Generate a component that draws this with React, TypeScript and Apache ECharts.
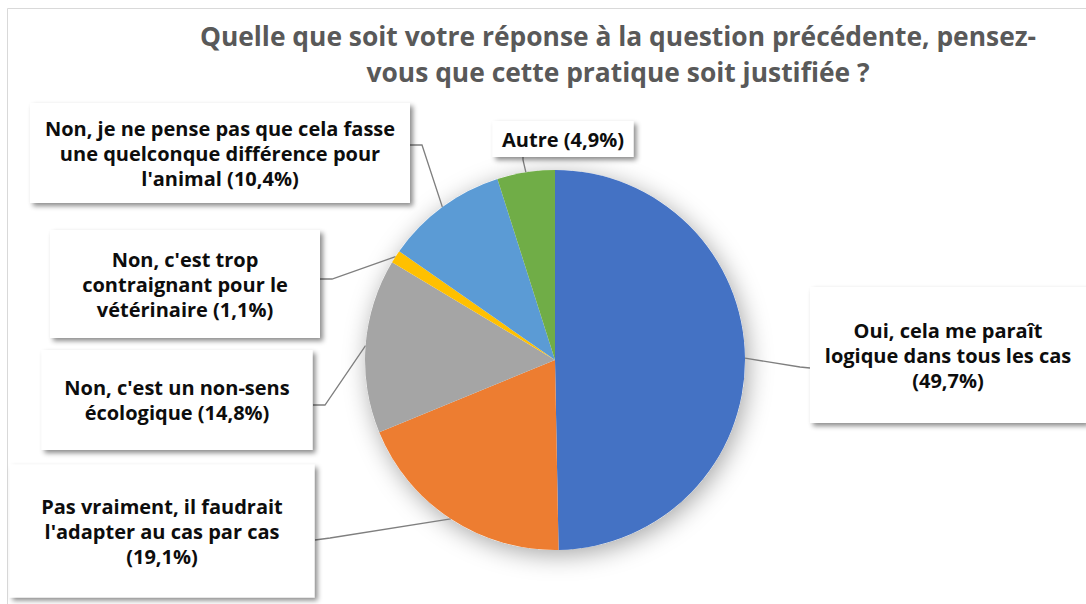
import React, { useEffect, useRef } from 'react';
import * as echarts from 'echarts';

const titleLines = [
  'Quelle que soit votre réponse à la question précédente, pensez-',
  'vous que cette pratique soit justifiée ?',
];
const categories = [
  'Oui, cela me paraît\nlogique dans tous les cas',
  "Pas vraiment, il faudrait\nl'adapter au cas par cas",
  "Non, c'est un non-sens\nécologique",
  "Non, c'est trop\ncontraignant pour le\nvétérinaire",
  "Non, je ne pense pas que cela fasse\nune quelconque différence pour\nl'animal",
  'Autre',
];
const values = [49.7, 19.1, 14.8, 1.1, 10.4, 4.9];
const colors = ['#4472C4', '#ED7D31', '#A5A5A5', '#FFC000', '#5B9BD5', '#70AD47'];

// layout of label boxes: center x, center y, width, height, separator before percentage
const boxes = [
  { cx: 948, cy: 355, w: 276, h: 136, sep: '\n' },
  { cx: 162, cy: 531, w: 305, h: 133, sep: '\n' },
  { cx: 177, cy: 400, w: 271, h: 100, sep: ' ' },
  { cx: 185, cy: 284, w: 270, h: 108, sep: ' ' },
  { cx: 220, cy: 153, w: 380, h: 100, sep: ' ' },
  { cx: 563, cy: 139, w: 141, h: 36, sep: ' ' },
];
// leader line elbows & ends
const links = [
  [[800, 367], [810, 368]],
  [[330, 538], [315, 540]],
  [[325, 405], [313, 405]],
  [[332, 279], [320, 279]],
  [[422, 145], [410, 145]],
  [[523, 160], [523, 157]],
];

const CX = 555;
const CY = 360;
const R = 190;
const FONT = "'Open Sans', 'Noto Sans', sans-serif";

export default function App() {
  const ref = useRef<HTMLDivElement>(null);
  useEffect(() => {
    const chart = echarts.init(ref.current!, null, { renderer: 'svg' });
    const total = values.reduce((a, b) => a + b, 0);
    let acc = 0;
    const edges = values.map((v) => {
      const mid = ((acc + v / 2) / total) * 2 * Math.PI;
      acc += v;
      return [CX + R * Math.sin(mid), CY - R * Math.cos(mid)];
    });
    const fmt = (v: number) => v.toFixed(1).replace('.', ',');
    const data = categories.map((name, i) => ({
      name,
      value: values[i],
      itemStyle: { color: colors[i] },
      label: { width: boxes[i].w, height: boxes[i].h },
    }));
    chart.setOption({
      animation: false,
      backgroundColor: '#ffffff',
      graphic: [
        {
          type: 'rect',
          shape: { x: 7.5, y: 8.5, width: 1100, height: 620 },
          style: { fill: 'none', stroke: '#d9d9d9', lineWidth: 1 },
          z: -10,
        },
        {
          type: 'text',
          x: 618,
          y: 18,
          style: {
            text: titleLines.join('\n'),
            fontFamily: FONT,
            fontWeight: 'bold',
            fontSize: 26.4,
            lineHeight: 36,
            fill: '#595959',
            align: 'center',
            verticalAlign: 'top',
          },
        },
      ],
      series: [
        {
          type: 'pie',
          center: [CX, CY],
          radius: R,
          silent: true,
          z: 1,
          label: { show: false },
          labelLine: { show: false },
          data: [
            {
              value: total,
              itemStyle: {
                color: '#ffffff',
                shadowBlur: 25,
                shadowColor: 'rgba(0,0,0,0.35)',
                shadowOffsetX: 3,
                shadowOffsetY: 5,
              },
            },
          ],
        },
        {
          type: 'pie',
          center: [CX, CY],
          radius: R,
          startAngle: 90,
          clockwise: true,
          z: 2,
          data,
          label: {
            show: true,
            position: 'outside',
            formatter: (p: any) => `${p.name}${boxes[p.dataIndex].sep}(${fmt(p.value)}%)`,
            fontFamily: FONT,
            fontWeight: 'bold',
            fontSize: 20,
            lineHeight: 25,
            color: '#0d0d0d',
            backgroundColor: '#ffffff',
            padding: 0,
            align: 'center',
            verticalAlign: 'middle',
            overflow: 'none',
            shadowColor: 'rgba(0,0,0,0.45)',
            shadowBlur: 5,
            shadowOffsetX: 3,
            shadowOffsetY: 3,
          },
          labelLine: {
            show: true,
            length: 10,
            length2: 10,
            lineStyle: { color: '#7f7f7f', width: 1.3 },
          },
          labelLayout: (params: any) => {
            const i = params.dataIndex;
            const b = boxes[i];
            return {
              x: b.cx,
              y: b.cy,
              align: 'center',
              verticalAlign: 'middle',
              labelLinePoints: [edges[i], links[i][0], links[i][1]],
            };
          },
        },
      ],
    });
    return () => chart.dispose();
  }, []);
  return (
    <div
      ref={ref}
      style={{ position: 'fixed', left: 0, top: 0, width: 1086, height: 604, background: '#fff' }}
    />
  );
}
